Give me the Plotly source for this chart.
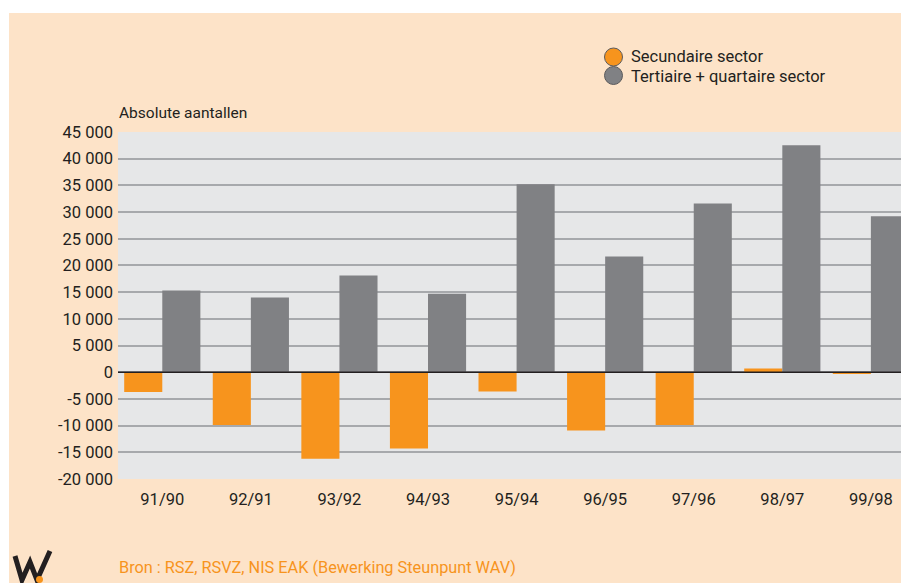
import plotly.graph_objects as go

categories = ["91/90", "92/91", "93/92", "94/93", "95/94", "96/95", "97/96", "98/97", "99/98"]
secundaire = [-3700, -9900, -16200, -14300, -3600, -10900, -9900, 700, -250]
tertiaire = [15300, 14000, 18100, 14700, 35200, 21700, 31600, 42500, 29200]
series_names = ["Secundaire sector", "Tertiaire + quartaire sector"]
y_ticks = [-20000, -15000, -10000, -5000, 0, 5000, 10000, 15000, 20000, 25000, 30000, 35000, 40000, 45000]
y_ticklabels = [f"{v:,}".replace(",", " ") for v in y_ticks]

ORANGE = "#f7941d"
GRAY = "#808184"
BG = "#fde3c8"
PLOT_BG = "#e6e7e8"
GRID = "#a7a9ac"
TEXT = "#231f20"
FONT = "Roboto, sans-serif"

W, H = 901, 583
L, R, T, B = 118, 0, 132, 104
pw, ph = W - L - R, H - T - B

def px_x(x):
    return (x - L) / pw

def px_y(y):
    return (H - B - y) / ph

fig = go.Figure()
fig.add_trace(go.Bar(x=categories, y=secundaire, name=series_names[0],
                     marker=dict(color=ORANGE, line=dict(width=0)), showlegend=False))
fig.add_trace(go.Bar(x=categories, y=tertiaire, name=series_names[1],
                     marker=dict(color=GRAY, line=dict(width=0)), showlegend=False))

shapes = []
# white strips at top and left
shapes.append(dict(type="rect", xref="paper", yref="paper", x0=px_x(0), x1=px_x(W), y0=px_y(13), y1=px_y(0),
                   fillcolor="white", line=dict(width=0), layer="above"))
shapes.append(dict(type="rect", xref="paper", yref="paper", x0=px_x(0), x1=px_x(9), y0=px_y(H), y1=px_y(0),
                   fillcolor="white", line=dict(width=0), layer="above"))
# zero line
shapes.append(dict(type="line", xref="paper", yref="y", x0=0, x1=1, y0=0, y1=0,
                   line=dict(color=TEXT, width=1.6), layer="above"))
# legend circles
for cy, col in [(57, ORANGE), (75.5, GRAY)]:
    shapes.append(dict(type="circle", xref="paper", yref="paper",
                       x0=px_x(604.5), x1=px_x(622.5), y0=px_y(cy + 9), y1=px_y(cy - 9),
                       fillcolor=col, line=dict(color="#5a5a5c", width=1), layer="above"))
# logo
def pth(points):
    s = ""
    for i, (x, y) in enumerate(points):
        s += ("M" if i == 0 else "L") + f"{px_x(x):.5f},{px_y(y):.5f} "
    return s
shapes.append(dict(type="path", xref="paper", yref="paper",
                   path=pth([(15, 556), (22, 580), (30, 562), (37, 580), (50, 551)]),
                   line=dict(color=TEXT, width=5), layer="above"))
shapes.append(dict(type="circle", xref="paper", yref="paper",
                   x0=px_x(36), x1=px_x(43), y0=px_y(583), y1=px_y(576),
                   fillcolor=ORANGE, line=dict(width=0), layer="above"))

annotations = [
    dict(text="Absolute aantallen", xref="paper", yref="paper", x=px_x(117), y=px_y(113),
         xanchor="left", yanchor="middle", showarrow=False, font=dict(size=15.5, color=TEXT, family=FONT)),
    dict(text=series_names[0], xref="paper", yref="paper", x=px_x(629), y=px_y(56.5),
         xanchor="left", yanchor="middle", showarrow=False, font=dict(size=16.5, color=TEXT, family=FONT)),
    dict(text=series_names[1], xref="paper", yref="paper", x=px_x(629), y=px_y(76.5),
         xanchor="left", yanchor="middle", showarrow=False, font=dict(size=16.5, color=TEXT, family=FONT)),
    dict(text="Bron : RSZ, RSVZ, NIS EAK (Bewerking Steunpunt WAV)", xref="paper", yref="paper",
         x=px_x(117), y=px_y(567), xanchor="left", yanchor="middle", showarrow=False,
         font=dict(size=16.3, color=ORANGE, family=FONT)),
]

fig.update_layout(
    width=W, height=H,
    margin=dict(l=L, r=R, t=T, b=B, pad=0),
    paper_bgcolor=BG, plot_bgcolor=PLOT_BG,
    barmode="group", bargap=0.14, bargroupgap=0,
    font=dict(family=FONT, size=16.5, color=TEXT),
    shapes=shapes, annotations=annotations,
    xaxis=dict(range=[-0.5, 8.34], showgrid=False, zeroline=False, showline=False,
               ticks="", tickfont=dict(size=16.5, color=TEXT, family=FONT), ticklabelstandoff=8,
               fixedrange=True),
    yaxis=dict(range=[-20000, 45000], tickvals=y_ticks, ticktext=y_ticklabels,
               showgrid=True, gridcolor=GRID, gridwidth=1.6, zeroline=False, showline=False,
               ticks="", tickfont=dict(size=16.5, color=TEXT, family=FONT), ticklabelstandoff=4,
               fixedrange=True),
)

fig.write_html("out.html", config={"displayModeBar": False},
               post_script="document.body.style.margin='0';document.body.style.padding='0';document.body.style.overflow='hidden';")
